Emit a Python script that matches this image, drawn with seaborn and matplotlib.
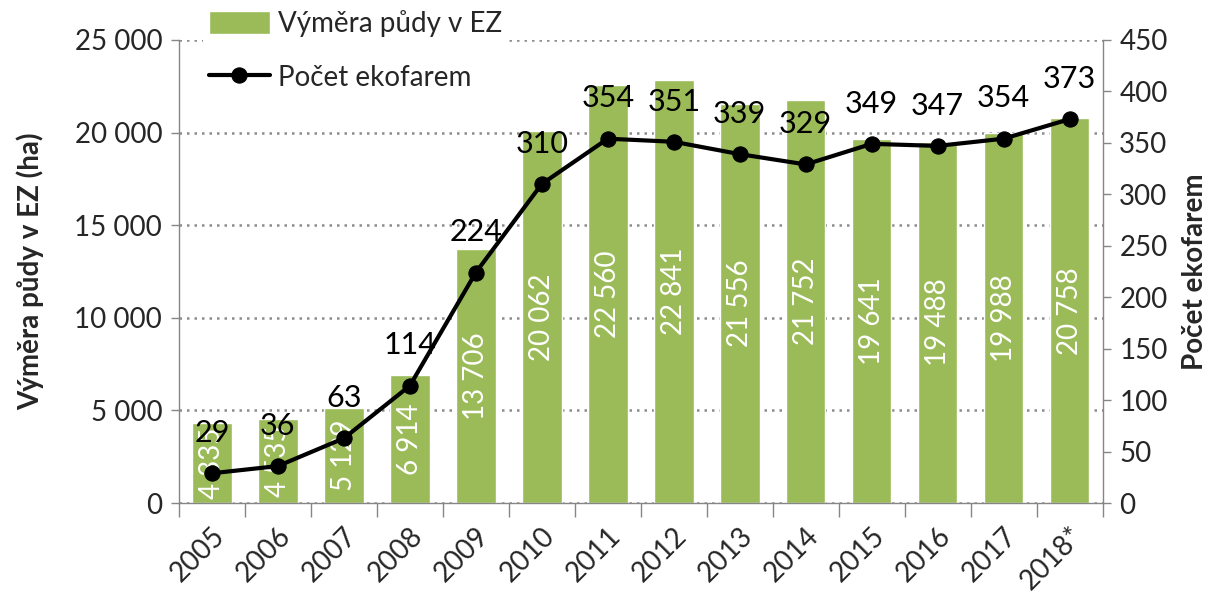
import numpy as np
import pandas as pd
import matplotlib
matplotlib.use("Agg")
import matplotlib.pyplot as plt
import matplotlib.ticker as mticker
import seaborn as sns

# data
years = ["2005", "2006", "2007", "2008", "2009", "2010", "2011",
         "2012", "2013", "2014", "2015", "2016", "2017", "2018*"]
area_ha = [4335, 4535, 5129, 6914, 13706, 20062, 22560,
           22841, 21556, 21752, 19641, 19488, 19988, 20758]
farms = [29, 36, 63, 114, 224, 310, 354, 351, 339, 329, 349, 347, 354, 373]

BAR_COLOR = "#9BBB59"
AXIS_GRAY = "#868686"
FS = 20


def space_thousands(v):
    return f"{int(round(v)):,}".replace(",", " ")


sns.set_theme(style="white")
plt.rcParams["font.family"] = ["Lato", "DejaVu Sans"]

df = pd.DataFrame({"Rok": years, "Vymera": area_ha, "Farmy": farms})

fig = plt.figure(figsize=(12.17, 6.04), dpi=100)
ax = fig.add_axes([0.147, 0.167, 0.759, 0.767])

sns.barplot(data=df, x="Rok", y="Vymera", color=BAR_COLOR, width=0.6,
            saturation=1, ax=ax, label="Výměra půdy v EZ", zorder=2)
ax.bar_label(ax.containers[0], labels=[space_thousands(v) for v in area_ha],
             label_type="center", rotation=90, color="white", fontsize=FS)

ax.set_ylim(0, 25000)
ax.yaxis.set_major_locator(mticker.MultipleLocator(5000))
ax.yaxis.set_major_formatter(mticker.FuncFormatter(lambda v, p: space_thousands(v)))
ax.yaxis.grid(True, linestyle=(0, (1, 2)), color="#8c8c8c", linewidth=1.8, zorder=0)
ax.set_axisbelow(True)
ax.set_xlim(-0.5, len(years) - 0.5)

# category separators on the x axis
ax.xaxis.set_minor_locator(mticker.FixedLocator(np.arange(-0.5, len(years), 1.0)))
ax.tick_params(axis="x", which="major", length=0, pad=14, labelsize=FS)
ax.tick_params(axis="x", which="minor", length=10, width=1, color=AXIS_GRAY,
               direction="out", bottom=True)
ax.tick_params(axis="y", length=6, width=1, color=AXIS_GRAY, direction="out",
               left=True, labelsize=FS, pad=6)
plt.setp(ax.get_xticklabels(), rotation=45, ha="right", rotation_mode="anchor")

for side in ["top", "right"]:
    ax.spines[side].set_visible(False)
for side in ["left", "bottom"]:
    ax.spines[side].set_color(AXIS_GRAY)
    ax.spines[side].set_linewidth(1)

ax.set_xlabel("")
ax.set_ylabel("Výměra půdy v EZ (ha)", fontsize=FS, fontweight="bold", labelpad=22)

ax2 = ax.twinx()
sns.lineplot(data=df, x="Rok", y="Farmy", color="black", linewidth=3,
             marker="o", markersize=11, markeredgecolor="black",
             ax=ax2, label="Počet ekofarem", sort=False)
for i, v in enumerate(farms):
    ax2.annotate(str(v), (i, v), xytext=(0, 29), textcoords="offset points",
                 ha="center", va="center", fontsize=22, color="black")

ax2.set_ylim(0, 450)
ax2.yaxis.set_major_locator(mticker.MultipleLocator(50))
ax2.tick_params(axis="y", length=6, width=1, color=AXIS_GRAY, direction="out",
                right=True, labelsize=FS, pad=6)
ax2.set_ylabel("Počet ekofarem", fontsize=FS, fontweight="bold", labelpad=10)
for side in ["top", "left", "bottom"]:
    ax2.spines[side].set_visible(False)
ax2.spines["right"].set_color(AXIS_GRAY)
ax2.spines["right"].set_linewidth(1)
ax2.grid(False)

h1, l1 = ax.get_legend_handles_labels()
h2, l2 = ax2.get_legend_handles_labels()
if ax.get_legend() is not None:
    ax.get_legend().remove()
leg = ax2.legend(h1 + h2, l1 + l2, loc="upper left",
                 bbox_to_anchor=(0.167, 0.993), bbox_transform=fig.transFigure,
                 borderaxespad=0, frameon=True, fancybox=False, framealpha=1,
                 edgecolor="white", fontsize=FS, handlelength=2.2,
                 handleheight=0.9, labelspacing=1.0, borderpad=0.2,
                 handletextpad=0.3)
leg.get_frame().set_linewidth(0)

fig.savefig("out.png", dpi=100)
